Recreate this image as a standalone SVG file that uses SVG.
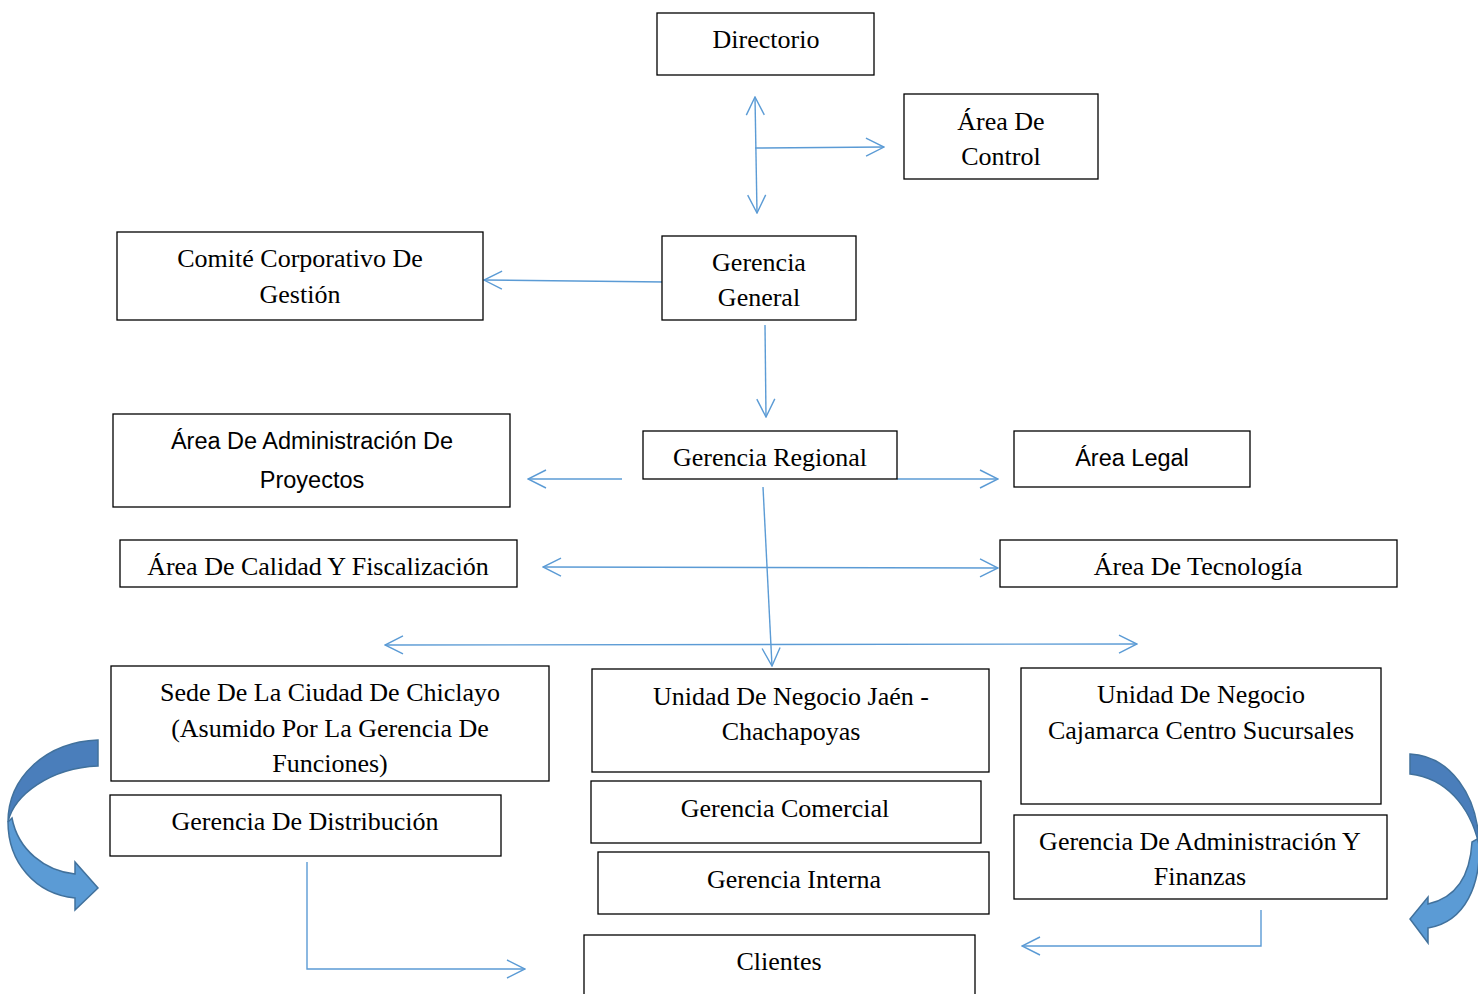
<svg xmlns="http://www.w3.org/2000/svg" width="1478" height="994" viewBox="0 0 1478 994">
<defs>
<style>
.box{fill:#fff;stroke:#000;stroke-width:1.3}
.t{font-family:"Liberation Serif","Times New Roman",serif;font-size:26px;fill:#000;text-anchor:middle}
.s{font-family:"Liberation Sans",Arial,sans-serif;font-size:23.5px;fill:#000;text-anchor:middle}
.c{fill:none;stroke:#5b9bd5;stroke-width:1.4}
.dark{fill:#4a7ebb;stroke:#41719c;stroke-width:1.5}
.light{fill:#5b9bd5;stroke:#41719c;stroke-width:1.5}
</style>
<marker id="ah" viewBox="0 0 20 20" refX="19" refY="10" markerWidth="20" markerHeight="20" markerUnits="userSpaceOnUse" orient="auto-start-reverse">
<path d="M1,1 L19,10 L1,19" fill="none" stroke="#5b9bd5" stroke-width="1.4"/>
</marker>
</defs>
<rect width="1478" height="994" fill="#fff"/>

<g id="connectors">
<path class="c" d="M755,97 L757,213" marker-start="url(#ah)" marker-end="url(#ah)"/>
<path class="c" d="M755,148 L884,147" marker-end="url(#ah)"/>
<path class="c" d="M665,282 L484,280" marker-end="url(#ah)"/>
<path class="c" d="M765,325 L766,417" marker-end="url(#ah)"/>
<path class="c" d="M622,479 L528,479" marker-end="url(#ah)"/>
<path class="c" d="M897,479 L998,479" marker-end="url(#ah)"/>
<path class="c" d="M763,487 L772,666" marker-end="url(#ah)"/>
<path class="c" d="M543,567 L998,568" marker-start="url(#ah)" marker-end="url(#ah)"/>
<path class="c" d="M385,645 L1137,644" marker-start="url(#ah)" marker-end="url(#ah)"/>
<path class="c" d="M307,862 L307,969 L525,969" marker-end="url(#ah)"/>
<path class="c" d="M1261,910 L1261,946 L1022,946" marker-end="url(#ah)"/>
</g>

<g id="curved-left">
<path class="light" d="M12,818 C18,850 45,871 75,874 L75,862 L98,888 L75,910 L75,898 C35,894 8,862 8,822 Z"/>
<path class="dark" d="M98,740 C45,742 8,778 8,822 C14,795 50,768 98,766 Z"/>
</g>
<g id="curved-right">
<path class="light" d="M1472,842 C1470,878 1455,898 1428,904 L1428,897 L1410,919 L1428,943 L1428,928 C1465,922 1482,885 1479,838 Z"/>
<path class="dark" d="M1410,754 C1450,756 1478,795 1479,845 C1470,805 1445,778 1410,774 Z"/>
</g>

<g id="directorio"><rect class="box" x="657" y="13" width="217" height="62"/><text class="t" x="766" y="48">Directorio</text></g>
<g id="area-control"><rect class="box" x="904" y="94" width="194" height="85"/><text class="t" x="1001" y="130">Área De</text><text class="t" x="1001" y="165">Control</text></g>
<g id="comite"><rect class="box" x="117" y="232" width="366" height="88"/><text class="t" x="300" y="267">Comité Corporativo De</text><text class="t" x="300" y="303">Gestión</text></g>
<g id="gerencia-general"><rect class="box" x="662" y="236" width="194" height="84"/><text class="t" x="759" y="271">Gerencia</text><text class="t" x="759" y="306">General</text></g>
<g id="area-admin-proyectos"><rect class="box" x="113" y="414" width="397" height="93"/><text class="s" x="312" y="449">Área De Administración De</text><text class="s" x="312" y="488">Proyectos</text></g>
<g id="gerencia-regional"><rect class="box" x="643" y="431" width="254" height="48"/><text class="t" x="770" y="466">Gerencia Regional</text></g>
<g id="area-legal"><rect class="box" x="1014" y="431" width="236" height="56"/><text class="s" x="1132" y="466">Área Legal</text></g>
<g id="area-calidad"><rect class="box" x="120" y="540" width="397" height="47"/><text class="t" x="318" y="575">Área De Calidad Y Fiscalización</text></g>
<g id="area-tecnologia"><rect class="box" x="1000" y="540" width="397" height="47"/><text class="t" x="1198" y="575">Área De Tecnología</text></g>
<g id="sede-chiclayo"><rect class="box" x="111" y="666" width="438" height="115"/><text class="t" x="330" y="701">Sede De La Ciudad De Chiclayo</text><text class="t" x="330" y="737">(Asumido Por La Gerencia De</text><text class="t" x="330" y="772">Funciones)</text></g>
<g id="unidad-jaen"><rect class="box" x="592" y="669" width="397" height="103"/><text class="t" x="791" y="705">Unidad De Negocio Jaén -</text><text class="t" x="791" y="740">Chachapoyas</text></g>
<g id="unidad-cajamarca"><rect class="box" x="1021" y="668" width="360" height="136"/><text class="t" x="1201" y="703">Unidad De Negocio</text><text class="t" x="1201" y="739">Cajamarca Centro Sucursales</text></g>
<g id="gerencia-distribucion"><rect class="box" x="110" y="795" width="391" height="61"/><text class="t" x="305" y="830">Gerencia De Distribución</text></g>
<g id="gerencia-comercial"><rect class="box" x="591" y="781" width="390" height="62"/><text class="t" x="785" y="817">Gerencia Comercial</text></g>
<g id="gerencia-interna"><rect class="box" x="598" y="852" width="391" height="62"/><text class="t" x="794" y="888">Gerencia Interna</text></g>
<g id="gerencia-admin-finanzas"><rect class="box" x="1014" y="815" width="373" height="84"/><text class="t" x="1200" y="850">Gerencia De Administración Y</text><text class="t" x="1200" y="885">Finanzas</text></g>
<g id="clientes"><rect class="box" x="584" y="935" width="391" height="70"/><text class="t" x="779" y="970">Clientes</text></g>
</svg>
